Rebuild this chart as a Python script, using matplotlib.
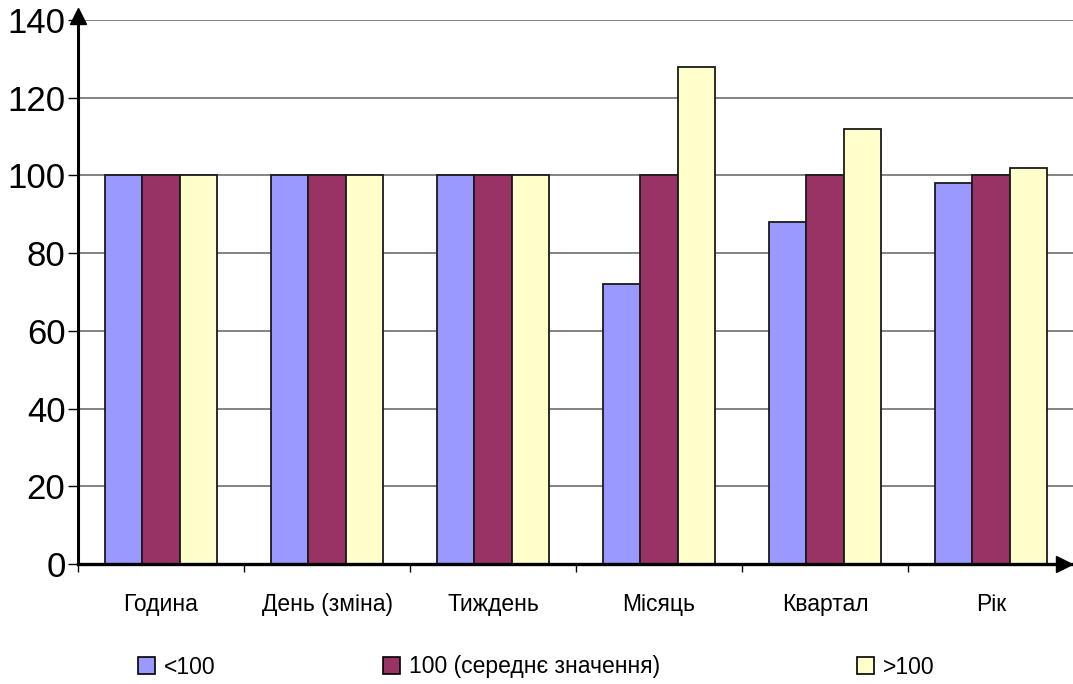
import matplotlib.pyplot as plt
from matplotlib.patches import Patch
import numpy as np

plt.rcParams['font.family'] = ['Liberation Sans', 'DejaVu Sans']

categories = ["Година", "День (зміна)", "Тиждень", "Місяць", "Квартал", "Рік"]
below = [100, 100, 100, 72, 88, 98]
average = [100, 100, 100, 100, 100, 100]
above = [100, 100, 100, 128, 112, 102]
series_names = ["<100", "100 (середнє значення)", ">100"]
colors = ["#9999FF", "#993366", "#FFFFCC"]

fig = plt.figure(figsize=(10.73, 6.84), dpi=100)
ax = fig.add_axes([78 / 1073, 120 / 684, 996 / 1073, 544 / 684])

x = np.arange(len(categories))
w = 0.223
for i, vals in enumerate([below, average, above]):
    ax.bar(x + (i - 1) * w, vals, w, color=colors[i], edgecolor="#1a1a1a",
           linewidth=1.3, zorder=3)

ax.set_xlim(-0.5, len(categories) - 0.5)
ax.set_ylim(0, 140)
ax.set_yticks(range(0, 141, 20))
ax.tick_params(axis="y", labelsize=25, length=7, width=1, pad=2)
ax.set_xticks(x)
ax.set_xticklabels(categories)
ax.tick_params(axis="x", which="major", length=0, labelsize=16.5, pad=21)
ax.set_xticks(np.arange(-0.5, len(categories)), minor=True)
ax.tick_params(axis="x", which="minor", length=6, width=1)
ax.yaxis.grid(True, color="#6e6e6e", linewidth=1.2, zorder=0)

for s in ["top", "right"]:
    ax.spines[s].set_visible(False)
ax.spines["left"].set_linewidth(2.2)
ax.spines["bottom"].set_linewidth(2.4)
ax.spines["left"].set_zorder(5)
ax.spines["bottom"].set_zorder(5)

# axis arrows
ax.plot([0, 0], [1, 1.01], color="black", lw=2.2, transform=ax.transAxes,
        clip_on=False, zorder=6)
ax.plot(0, 1.0074, marker="^", ms=11, color="black", transform=ax.transAxes,
        clip_on=False, zorder=6)
ax.plot(0.99, 0, marker=">", ms=11, color="black", transform=ax.transAxes,
        clip_on=False, zorder=6)

# legend, one entry at a time to keep the original spacing
legend_x = [127 / 1073, 372 / 1073, 846 / 1073]
for i in range(3):
    h = Patch(facecolor=colors[i], edgecolor="black", linewidth=1.2)
    fig.legend(handles=[h], labels=[series_names[i]], loc="center left",
               bbox_to_anchor=(legend_x[i], 1 - 667 / 684), frameon=False,
               fontsize=16.5, handlelength=0.72, handleheight=0.72,
               handletextpad=0.4, borderpad=0)

fig.savefig("out.png", dpi=100)
